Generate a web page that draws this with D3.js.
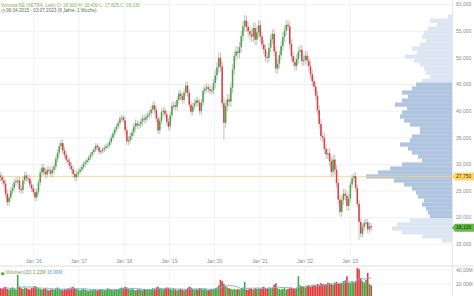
<!DOCTYPE html>
<html>
<head>
<meta charset="utf-8">
<script src="https://cdn.jsdelivr.net/npm/d3@7"></script>
<style>
  html, body { margin: 0; padding: 0; background: #fff; }
  svg { display: block; font-family: "Liberation Sans", Arial, sans-serif; }
</style>
</head>
<body>
<svg id="chart" width="474" height="296"></svg>
<script>
// closes, one every 14 days from 06.04.2015
const startDate = new Date(2015, 3, 6);
const closes = [
  27.6, 27.0, 26.4, 24.5, 22.9, 23.8, 25.0, 25.6, 26.6, 26.9, 27.0, 25.4, 25.2, 27.0, 27.9, 27.4, 27.3, 26.2, 25.5,
  24.8, 23.8, 24.9, 26.6, 28.4, 29.4, 28.6, 28.1, 29.0, 28.8, 28.3, 29.0, 29.6, 31.0, 32.2, 33.4, 34.0, 32.6, 31.8, 30.9, 30.5, 29.7, 29.1, 28.2, 27.6, 28.2,
  28.6, 29.0, 29.5, 30.1, 30.4, 30.8, 31.3, 31.8, 32.3, 32.8, 33.5, 33.2, 32.4, 32.5, 32.8, 33.1, 33.4, 33.6, 34.2, 35.0, 35.8, 36.6, 37.1, 37.8, 38.6, 38.8,
  38.3, 36.4, 34.3, 34.6, 35.3, 36.0, 37.1, 37.7, 37.3, 37.5, 38.0, 38.6, 38.4, 38.9, 39.3, 39.6, 40.3, 41.1, 40.2, 38.6, 36.4, 38.2, 39.8, 40.1, 39.4, 38.0,
  37.1, 39.2, 41.0, 41.1, 40.8, 42.1, 43.3, 42.8, 42.1, 43.5, 44.8, 43.4, 41.2, 39.9, 40.9, 41.5, 42.0, 41.6, 40.0, 41.6, 43.8, 44.2, 44.5, 44.1, 43.8, 43.9,
  45.3, 46.7, 48.2, 50.0, 48.4, 41.5, 37.8, 41.0, 42.2, 41.8, 44.4, 47.8, 50.4, 51.2, 50.9, 52.0, 54.1, 55.9, 57.0, 55.8, 55.0, 54.4, 54.0, 55.6, 53.4, 54.8,
  56.1, 54.0, 52.5, 51.6, 50.2, 50.0, 51.9, 53.5, 54.5, 51.2, 48.0, 48.9, 50.5, 52.2, 53.9, 55.1, 56.2, 55.9, 52.6, 50.3, 49.2, 48.5, 49.8, 51.2, 51.5, 49.4,
  49.6, 50.4, 49.5, 48.4, 46.9, 45.6, 44.6, 42.9, 40.2, 37.6, 35.3, 35.0, 32.9, 31.9, 32.1, 30.6, 28.6, 30.9, 29.0, 26.5, 23.4, 21.1, 23.3, 24.5, 24.1, 22.2,
  23.6, 26.2, 27.4, 27.8, 25.6, 22.6, 19.2, 17.0, 18.2, 19.0, 19.1, 17.8, 18.4, 18.13
];
const firstOpen = 27.9;
// typical wick length per year (EUR) and single outliers
const wickYears = [2015, 2016, 2017, 2018, 2019, 2020, 2021, 2022, 2023];
const wickSpans = [0.7, 0.7, 0.5, 0.7, 0.7, 1.0, 0.9, 0.9, 0.7];
const lowOutliers = { 129: 34.6, 207: 15.9 };

// volume per candle, millions
const volumes = [
  14, 13, 15, 16, 13, 12, 14, 15, 13, 12, 33, 16, 14, 13, 15, 14, 13, 12, 14,
  15, 17, 16, 14, 13, 12, 13, 14, 12, 11, 12, 13, 12, 14, 15, 13, 12, 11, 13, 12, 14, 13, 15, 16, 14, 13,
  12, 11, 12, 13, 12, 11, 10, 12, 11, 13, 12, 11, 12, 13, 12, 11, 12, 14, 13, 12, 11, 12, 13, 12, 14, 15,
  14, 16, 15, 13, 12, 13, 12, 11, 12, 13, 12, 11, 13, 12, 12, 13, 12, 14, 13, 15, 16, 14, 13, 12, 14, 15,
  14, 13, 12, 13, 12, 11, 12, 13, 12, 11, 12, 14, 16, 15, 13, 12, 13, 12, 14, 13, 12, 13, 12, 11, 12, 13,
  13, 14, 15, 18, 26, 24, 20, 17, 15, 14, 13, 12, 13, 12, 13, 12, 14, 15, 23, 12, 12, 14, 13, 12, 14, 13,
  14, 13, 15, 16, 14, 13, 15, 14, 15, 19, 21, 14, 13, 12, 13, 14, 12, 13, 14, 15, 14, 13, 15, 31, 18, 17,
  16, 15, 17, 18, 16, 17, 19, 18, 20, 19, 21, 20, 19, 20, 22, 21, 20, 19, 22, 23, 21, 20, 22, 24, 25, 31,
  22, 21, 24, 22, 23, 43, 41, 28, 24, 22, 26, 36, 20, 18
];

// volume profile: bin centre price and relative volume
const profileLevels = d3.range(77, 20, -1).map(k => k * 0.75);
const profileVolumes = [
  4, 22, 15, 24, 28, 30, 26, 32, 40, 35, 47, 38, 32, 28, 26, 22, 30,
  36, 40, 50, 44, 50, 57, 45, 50, 52, 48, 42, 32, 32, 40, 42, 52, 44, 40, 34, 30, 50, 62, 74, 86,
  58, 48, 40, 36, 34, 28, 30, 26, 24, 22,
  42, 55, 60, 50, 30, 10
];
const valueArea = [20.25, 45.0];

const priceTicks = [15, 20, 25, 30, 35, 40, 45, 50, 55, 60];
const volumeTicks = [20, 40];
const yearTicks = [2016, 2017, 2018, 2019, 2020, 2021, 2022, 2023];
const pocPrice = 27.75;
const lastPrice = 18.13;
const titleText = "Vonovia SE (XETRA, Last)  O: 18,000  H: 18,430  L: 17,825  C: 18,130";
const rangeText = "06.04.2015 - 03.07.2023  (8 Jahre, 1 Woche)";
const volNow = "1,22M", volAvg = "16,99M";

const W = 474, H = 296, plotR = 452;
const svg = d3.select("#chart");
const deComma = s => s.replace(".", ",");
const fmtPrice = v => deComma(d3.format(".3f")(v));

const dates = closes.map((c, i) => d3.timeDay.offset(startDate, 14 * i));
const x = d3.scaleTime().domain([new Date(2015, 3, 3), new Date(2025, 3, 2)]).range([0, plotR]);
const y = d3.scaleLinear().domain([15, 60]).range([244.3, 4.6]);
const yv = d3.scaleLinear().domain([0, 40]).range([298, 270]);

const candles = closes.map((c, i) => {
  const open = i ? closes[i - 1] : firstOpen;
  const w = wickSpans[wickYears.indexOf(dates[i].getFullYear())];
  return {
    date: dates[i], open, close: c, vol: volumes[i],
    high: Math.max(open, c) + w,
    low: lowOutliers[i] !== undefined ? lowOutliers[i] : Math.min(open, c) - w
  };
});

// grid
const grid = svg.append("g");
grid.selectAll(".hg").data(priceTicks).enter().append("line")
  .attr("x1", 0).attr("x2", plotR)
  .attr("y1", d => y(d)).attr("y2", d => y(d))
  .attr("stroke", "#eeeeee").attr("stroke-width", 0.8);
grid.selectAll(".vg").data(yearTicks).enter().append("line")
  .attr("x1", d => x(new Date(d, 0, 1))).attr("x2", d => x(new Date(d, 0, 1)))
  .attr("y1", 0).attr("y2", 256)
  .attr("stroke", "#eeeeee").attr("stroke-width", 0.8);
grid.selectAll(".vg2").data(yearTicks).enter().append("line")
  .attr("x1", d => x(new Date(d, 0, 1))).attr("x2", d => x(new Date(d, 0, 1)))
  .attr("y1", 266).attr("y2", H)
  .attr("stroke", "#eeeeee").attr("stroke-width", 0.8);
grid.selectAll(".vh").data(volumeTicks).enter().append("line")
  .attr("x1", 0).attr("x2", plotR)
  .attr("y1", d => yv(d)).attr("y2", d => yv(d))
  .attr("stroke", "#eeeeee").attr("stroke-width", 0.8);

// volume profile
const binH = Math.abs(y(0.75) - y(0));
const px = d3.scaleLinear().domain([0, d3.max(profileVolumes)]).range([0, 86]);
svg.append("g").selectAll("rect").data(profileLevels).enter().append("rect")
  .attr("x", (d, i) => plotR - px(profileVolumes[i]))
  .attr("width", (d, i) => px(profileVolumes[i]))
  .attr("y", d => y(d) - binH / 2)
  .attr("height", binH + 0.2)
  .attr("fill", d => d >= valueArea[0] && d <= valueArea[1] ? "#aec4df" : "#dce6f2");

// poc line
svg.append("line")
  .attr("x1", 0).attr("x2", plotR)
  .attr("y1", y(pocPrice)).attr("y2", y(pocPrice))
  .attr("stroke", "#f9d37e").attr("stroke-width", 0.8);

// candles
const bw = 1.5;
const up = "#47a447", down = "#dd3c3c";
const cg = svg.append("g");
cg.selectAll("line").data(candles).enter().append("line")
  .attr("x1", d => x(d.date)).attr("x2", d => x(d.date))
  .attr("y1", d => y(d.high)).attr("y2", d => y(d.low))
  .attr("stroke", "#a9a9a9").attr("stroke-width", 0.7);
cg.selectAll("rect").data(candles).enter().append("rect")
  .attr("x", d => x(d.date) - bw / 2)
  .attr("width", bw)
  .attr("y", d => y(Math.max(d.open, d.close)))
  .attr("height", d => Math.max(1.2, Math.abs(y(d.open) - y(d.close))))
  .attr("fill", d => d.close >= d.open ? up : down);

// volume panel
svg.append("line").attr("x1", 0).attr("x2", W).attr("y1", 266).attr("y2", 266)
  .attr("stroke", "#d6d6d6").attr("stroke-width", 0.8);
svg.append("g").selectAll("rect").data(candles).enter().append("rect")
  .attr("x", d => x(d.date) - 0.8)
  .attr("width", 1.6)
  .attr("y", d => yv(d.vol))
  .attr("height", d => yv(0) - yv(d.vol))
  .attr("fill", d => d.close >= d.open ? up : down);

const ma = candles.map((d, i) => ({
  date: d.date, v: d3.mean(candles.slice(Math.max(0, i - 9), i + 1), e => e.vol)
}));
svg.append("path").datum(ma)
  .attr("fill", "none").attr("stroke", "#7fb2e0").attr("stroke-width", 1)
  .attr("d", d3.line().x(d => x(d.date)).y(d => yv(d.v)));

// right axis line
svg.append("line").attr("x1", plotR + 0.5).attr("x2", plotR + 0.5).attr("y1", 0).attr("y2", H)
  .attr("stroke", "#e2e2e2").attr("stroke-width", 0.8);

// axis labels
svg.append("g").selectAll("text").data(priceTicks).enter().append("text")
  .attr("x", 456).attr("y", d => y(d)).attr("dy", "0.35em")
  .attr("font-size", 5).attr("fill", "#8a8a8a")
  .text(fmtPrice);
svg.append("g").selectAll("text").data(volumeTicks).enter().append("text")
  .attr("x", 456).attr("y", d => yv(d)).attr("dy", "0.35em")
  .attr("font-size", 5).attr("fill", "#8a8a8a")
  .text(d => deComma(d3.format(".2f")(d)) + "M");
svg.append("g").selectAll("text").data(yearTicks).enter().append("text")
  .attr("x", d => x(new Date(d, 0, 1))).attr("y", 261).attr("dy", "0.35em")
  .attr("text-anchor", "middle").attr("font-size", 5).attr("fill", "#8a8a8a")
  .text(d => "Jan '" + String(d).slice(2));

// price tags
function tag(v, fill, color) {
  const ty = y(v);
  svg.append("path")
    .attr("d", `M${plotR},${ty}L${plotR + 3},${ty - 4}H${W}V${ty + 4}H${plotR + 3}Z`)
    .attr("fill", fill);
  svg.append("text").attr("x", 456).attr("y", ty).attr("dy", "0.35em")
    .attr("font-size", 5).attr("fill", color).text(fmtPrice(v));
}
tag(pocPrice, "#fcd66d", "#4a3b00");
tag(lastPrice, "#62ba48", "#10300a");

// header
svg.append("text").attr("x", 1).attr("y", 5).attr("dy", "0.35em")
  .attr("font-size", 4.6).attr("fill", "#86b84a").text(titleText);
svg.append("text").attr("x", 1).attr("y", 10.5).attr("dy", "0.35em")
  .attr("font-size", 4.6).attr("fill", "#666").text("\u25F7 " + rangeText);

const vl = svg.append("text").attr("x", 1).attr("y", 272).attr("dy", "0.35em").attr("font-size", 4.6);
vl.append("tspan").attr("fill", "#6f9f4e").text("\u2584 Volumen(20)  ");
vl.append("tspan").attr("fill", "#6f9f4e").text(volNow + "  ");
vl.append("tspan").attr("fill", "#5b9bd5").text(volAvg);
</script>
</body>
</html>
